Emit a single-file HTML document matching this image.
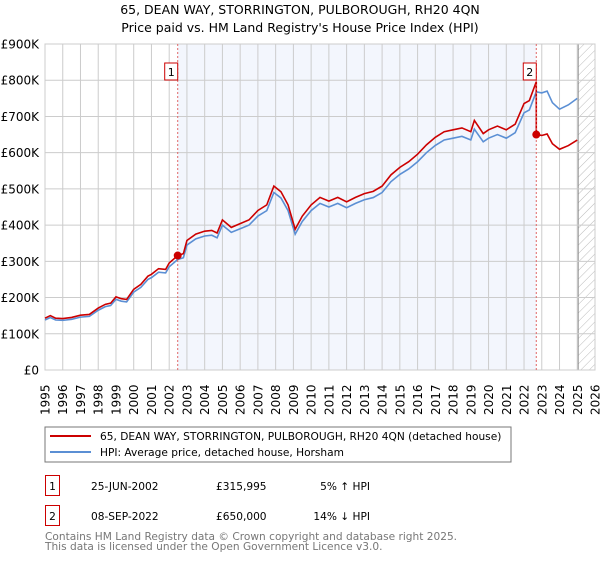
<!DOCTYPE html>
<html><head><meta charset="utf-8"><style>
body{margin:0;background:#fff;font-family:"Liberation Sans","DejaVu Sans",sans-serif;}
svg text{font-family:"DejaVu Sans","Liberation Sans",sans-serif;}
</style></head><body>
<svg id="c" width="600" height="560" xmlns="http://www.w3.org/2000/svg">
<defs><pattern id="hatch" width="6" height="6" patternUnits="userSpaceOnUse" patternTransform="rotate(45)"><line x1="0" y1="0" x2="0" y2="6" stroke="#bbb" stroke-width="1"/></pattern></defs>
<text x="300" y="14" text-anchor="middle" font-size="12.5">65, DEAN WAY, STORRINGTON, PULBOROUGH, RH20 4QN</text>
<text x="300" y="32" text-anchor="middle" font-size="12.5">Price paid vs. HM Land Registry's House Price Index (HPI)</text>
<g id="plot"></g>
<rect x="45" y="427" width="466" height="35" fill="#fff" stroke="#777"/>
<line x1="50" y1="436" x2="91" y2="436" stroke="#cc0000" stroke-width="2"/>
<text x="100" y="440" font-size="10.6">65, DEAN WAY, STORRINGTON, PULBOROUGH, RH20 4QN (detached house)</text>
<line x1="50" y1="452" x2="91" y2="452" stroke="#5b8fd4" stroke-width="2"/>
<text x="100" y="456" font-size="10.6">HPI: Average price, detached house, Horsham</text>
<rect x="45.5" y="475.5" width="14" height="20" fill="none" stroke="#cc0000"/>
<text x="52.5" y="490" text-anchor="middle" font-size="10.6">1</text>
<text x="91" y="490" font-size="10.6">25-JUN-2002</text>
<text x="216" y="490" font-size="10.6">£315,995</text>
<text x="370" y="490" text-anchor="end" font-size="10.6">5% ↑ HPI</text>
<rect x="45.5" y="505.5" width="14" height="20" fill="none" stroke="#cc0000"/>
<text x="52.5" y="520" text-anchor="middle" font-size="10.6">2</text>
<text x="91" y="520" font-size="10.6">08-SEP-2022</text>
<text x="216" y="520" font-size="10.6">£650,000</text>
<text x="370" y="520" text-anchor="end" font-size="10.6">14% ↓ HPI</text>
<text x="45" y="540" font-size="10.6" fill="#777">Contains HM Land Registry data © Crown copyright and database right 2025.</text>
<text x="45" y="550" font-size="10.6" fill="#777">This data is licensed under the Open Government Licence v3.0.</text>
</svg>
<script>
const hpiYears=[1995,1995.3,1995.6,1996,1996.5,1997,1997.5,1998,1998.4,1998.7,1999,1999.3,1999.6,2000,2000.4,2000.8,2001,2001.4,2001.8,2002,2002.48,2002.8,2003,2003.5,2004,2004.4,2004.7,2005,2005.5,2006,2006.5,2007,2007.5,2007.9,2008.3,2008.7,2009.1,2009.5,2010,2010.5,2011,2011.5,2012,2012.5,2013,2013.5,2014,2014.5,2015,2015.5,2016,2016.5,2017,2017.5,2018,2018.5,2019,2019.2,2019.7,2020,2020.5,2021,2021.5,2022,2022.3,2022.69,2023,2023.3,2023.6,2024,2024.5,2025];
const hpiValues=[138,145,138,137,140,146,148,165,175,178,195,190,188,215,228,250,255,270,268,285,305,310,345,362,370,372,365,400,380,390,400,425,440,490,475,440,375,410,440,460,450,460,448,460,470,476,490,520,540,555,575,600,620,635,640,645,635,665,630,640,650,640,655,710,718,768,765,770,738,720,732,750];
const saleYears=[2002.48,2022.69];
const salePrices=[315995,650000];
const yTicks=[0,100,200,300,400,500,600,700,800,900];
const yTickLabels=["£0","£100K","£200K","£300K","£400K","£500K","£600K","£700K","£800K","£900K"];
const xTicks=[1995,1996,1997,1998,1999,2000,2001,2002,2003,2004,2005,2006,2007,2008,2009,2010,2011,2012,2013,2014,2015,2016,2017,2018,2019,2020,2021,2022,2023,2024,2025,2026];
const X0=45,X1=595,Y0=370,Y1=44,YMIN=1995,YMAX=2026,VMAX=900;
const x=t=>X0+(t-YMIN)/(YMAX-YMIN)*(X1-X0);
const y=v=>Y0-v/VMAX*(Y0-Y1);
const NS="http://www.w3.org/2000/svg",g=document.getElementById('plot');
function mk(tag,attrs){const e=document.createElementNS(NS,tag);for(const k in attrs)e.setAttribute(k,attrs[k]);g.appendChild(e);return e;}
const bg=mk('rect',{x:x(saleYears[0]),y:Y1,width:x(saleYears[1])-x(saleYears[0]),height:Y0-Y1,fill:'#f3f6fd'});


const ht=mk('rect',{x:x(2025.05),y:Y1,width:X1-x(2025.05),height:Y0-Y1,fill:'url(#hatch)'});


mk('line',{x1:x(2025.05),x2:x(2025.05),y1:Y1,y2:Y0,stroke:'#888'});
xTicks.forEach(t=>{
 const l=mk('line',{x1:x(t),x2:x(t),y1:Y1,y2:Y0,stroke:'#cccccc'});
 
 
 const tx=mk('text',{transform:`translate(${x(t)+4.5},415) rotate(-90)`,'font-size':'12'});tx.textContent=t;
 
 
});
yTicks.forEach((v,i)=>{
 const l=mk('line',{x1:X0,x2:X1,y1:y(v),y2:y(v),stroke:'#cccccc'});
 
 
 const tx=mk('text',{x:39,y:y(v)+4.5,'text-anchor':'end','font-size':'12'});tx.textContent=yTickLabels[i];
 
 
});
mk('rect',{x:X0,y:Y1,width:X1-X0,height:Y0-Y1,fill:'none',stroke:'#cccccc'});
function interp(t){for(let i=0;i<hpiYears.length-1;i++){if(t>=hpiYears[i]&&t<=hpiYears[i+1]){const f=(t-hpiYears[i])/(hpiYears[i+1]-hpiYears[i]);return hpiValues[i]+f*(hpiValues[i+1]-hpiValues[i]);}}return hpiValues[hpiValues.length-1];}
const hp=mk('polyline',{points:hpiYears.map((t,i)=>x(t)+','+y(hpiValues[i])).join(' '),fill:'none',stroke:'#5b8fd4','stroke-width':'1.6'});


const r1=salePrices[0]/1000/interp(saleYears[0]),r2=salePrices[1]/1000/interp(saleYears[1]);
let pts=[];
hpiYears.forEach((t,i)=>{if(t<saleYears[1])pts.push([t,hpiValues[i]*r1]);});
pts.push([saleYears[1],interp(saleYears[1])*r1]);
pts.push([saleYears[1],interp(saleYears[1])*r2]);
hpiYears.forEach((t,i)=>{if(t>saleYears[1])pts.push([t,hpiValues[i]*r2]);});
const pp=mk('polyline',{points:pts.map(p=>x(p[0])+','+y(p[1])).join(' '),fill:'none',stroke:'#cc0000','stroke-width':'1.6'});


saleYears.forEach((t,i)=>{
 const l=mk('line',{x1:x(t),x2:x(t),y1:Y1,y2:Y0,stroke:'#e06666','stroke-dasharray':'2,2'});
 
 
 const c=mk('circle',{cx:x(t),cy:y(salePrices[i]/1000),r:4,fill:'#cc0000'});
 
 
 const b=mk('rect',{x:x(t)-13,y:63,width:13,height:17,fill:'#fff',stroke:'#cc0000'});
 
 
 const tx=mk('text',{x:x(t)-6.5,y:76,'text-anchor':'middle','font-size':'11'});tx.textContent=i+1;
 
 
});
</script>
</body></html>
